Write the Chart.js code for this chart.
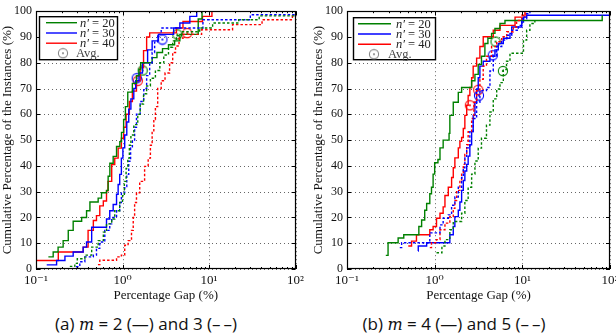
<!DOCTYPE html>
<html>
<head>
<meta charset="utf-8">
<script src="https://cdn.jsdelivr.net/npm/chart.js@4.4.1/dist/chart.umd.min.js"></script>
<style>
  html, body { margin: 0; padding: 0; background: #fff; width: 616px; height: 334px; overflow: hidden; position: relative; }
  .panel { position: absolute; top: 0; height: 305px; }
  #panelA { left: 0; width: 308px; }
  #panelB { left: 308px; width: 316px; }
  .caption { position: absolute; top: 314px; font-family: "Open Sans", sans-serif; font-size: 17px; line-height: 20px; white-space: nowrap; transform: translateX(-50%); color: #111; }
  .caption i { font-family: "DejaVu Serif", serif; font-size: 16px; }
</style>
</head>
<body>
<div class="panel" id="panelA"><canvas id="chartA"></canvas></div>
<div class="panel" id="panelB"><canvas id="chartB"></canvas></div>
<div class="caption" style="left:146px">(a) <i>m</i> = 2 (—) and 3 (–&#8201;–)</div>
<div class="caption" style="left:454px">(b) <i>m</i> = 4 (—) and 5 (–&#8201;–)</div>
<script>
const SERIF = '"Liberation Serif", "DejaVu Serif", serif';

// axis ticks
const xTickValues = [0.1, 1, 10, 100];
const xTickLabels = ['10⁻¹', '10⁰', '10¹', '10²'];
const yTickValues = [0, 10, 20, 30, 40, 50, 60, 70, 80, 90, 100];
const nPrime = ['20', '30', '40'];

// (a) m = 2, solid lines: gap (%) and cumulative share of instances (%)
const m2n20Gap = [0.139, 0.158, 0.18, 0.206, 0.236, 0.269, 0.337, 0.384, 0.42, 0.523, 0.572, 0.654, 0.682, 0.714, 0.78, 0.853, 0.931, 0.973, 1.03, 1.08, 1.15, 1.3, 1.45, 1.55, 1.62, 2.2, 2.5, 2.9, 3.4, 4.0, 4.6, 7.5, 8.3];
const m2n20Pct = [4.7, 6.6, 8.5, 11, 15, 18.5, 20, 22.6, 26, 27.5, 29.6, 30.5, 36, 41, 43.7, 47.5, 49.4, 53, 58, 63, 68.6, 72, 75, 77.5, 80, 82, 84, 85.5, 87, 88.5, 91, 97, 100];
const m2n30Gap = [0.133, 0.173, 0.216, 0.269, 0.351, 0.384, 0.44, 0.653, 0.712, 0.78, 0.853, 0.89, 0.928, 0.97, 1.01, 1.06, 1.12, 1.18, 1.25, 1.35, 1.42, 1.55, 1.7, 1.95, 2.2, 2.6, 3.9, 4.6, 6.0, 7.2];
const m2n30Pct = [1.6, 3.3, 5, 6.6, 8.5, 10.5, 16.2, 19.4, 22.6, 25, 29, 32.8, 36.7, 43, 47, 52, 57, 62, 66, 70, 73, 76, 80, 85, 88.5, 91, 93.5, 95.4, 98, 100];
const m2n40Gap = [0.1, 0.181, 0.351, 0.40, 0.46, 0.50, 0.546, 0.60, 0.653, 0.68, 0.75, 0.813, 0.89, 0.97, 1.03, 1.1, 1.2, 1.3, 1.45, 1.6, 1.75, 1.9, 2.06, 4.2, 5.0, 8.4, 10.8];
const m2n40Pct = [3.3, 6.6, 8.5, 15, 18.8, 20.7, 24.5, 26.4, 30.3, 34, 40.5, 43, 46.9, 50.7, 55, 60, 65, 69, 73, 78, 84.7, 90, 91.6, 93.5, 96, 98, 100];

// (a) m = 3, dashed lines
const m3n20Gap = [0.246, 0.281, 0.30, 0.367, 0.44, 0.523, 0.60, 0.653, 0.75, 0.813, 0.928, 1.0, 1.05, 1.1, 1.15, 1.2, 1.25, 1.35, 1.5, 1.6, 1.75, 1.9, 2.1, 2.4, 2.7, 3.0, 3.4, 3.8, 4.2, 4.8, 7.8, 11, 22, 38, 100];
const m3n20Pct = [1, 2.2, 4, 5.4, 8.5, 11, 14.3, 17.5, 19.4, 22.6, 25.8, 29, 34, 39, 43, 48, 52, 56, 60, 64, 68, 71, 74, 77, 80, 83, 86, 88.5, 90.5, 92, 93.5, 95.4, 96.7, 98.2, 98.2];
const m3n30Gap = [0.29, 0.321, 0.367, 0.46, 0.50, 0.546, 0.624, 0.712, 0.75, 0.853, 0.928, 0.97, 1.06, 1.12, 1.18, 1.24, 1.3, 1.38, 1.45, 1.6, 1.76, 1.9, 2.06, 2.2, 2.35, 2.55, 2.8, 8.5, 30, 100];
const m3n30Pct = [0.9, 2.8, 4.7, 5.4, 8, 10.5, 15, 17.5, 20, 22.6, 25.8, 29.6, 32, 36.7, 41.8, 47, 50, 55, 60, 65, 70, 75, 80, 84, 88, 91, 93.5, 96.7, 98.6, 98.6];
const m3n40Gap = [0.52, 0.546, 0.853, 0.97, 1.06, 1.16, 1.27, 1.33, 1.38, 1.45, 1.58, 1.80, 1.98, 2.1, 2.2, 2.3, 2.4, 2.55, 2.8, 3.1, 3.5, 3.8, 4.1, 4.5, 5.0, 8.2, 18.7, 41, 92, 100];
const m3n40Pct = [1.7, 3.4, 4.7, 5.4, 9.2, 11, 15, 20, 25.8, 29.6, 34, 39.8, 43, 48, 53, 58, 63, 70, 73, 76, 80, 84, 86.5, 89.5, 91, 92.8, 94.8, 96.7, 98.2, 98.2];

// (b) m = 4, solid lines
const m4n20Gap = [0.277, 0.294, 0.383, 0.444, 0.66, 0.71, 0.77, 0.81, 0.88, 0.92, 0.96, 1.0, 1.09, 1.15, 1.25, 1.46, 1.49, 1.63, 1.86, 2.03, 2.64, 2.88, 3.14, 3.42, 3.74, 4.05, 4.46, 4.87, 5.56, 6.34, 81.5];
const m4n20Pct = [5.3, 10.2, 12, 13.3, 16.5, 19, 22.8, 25.4, 29.2, 31.7, 36.8, 41.2, 42.5, 47, 50, 52.6, 59.6, 64.7, 68.5, 70.4, 73, 75.5, 79.3, 82.5, 87.5, 89.5, 91.4, 93.3, 95.2, 96.4, 98.4];
const m4n30Gap = [0.647, 0.65, 0.81, 1.49, 1.63, 1.70, 1.86, 1.94, 2.03, 2.12, 2.21, 2.32, 2.41, 2.52, 2.64, 2.75, 2.88, 3.01, 3.14, 3.28, 3.58, 4.27, 4.87, 5.32, 6.07, 7.23, 7.57, 9.85, 10.3, 11.2, 100];
const m4n30Pct = [7, 8.9, 10.2, 13.3, 16.5, 20.3, 22.8, 26, 30.5, 34.3, 38, 40.6, 43.8, 48.2, 53.3, 59.6, 64.7, 69.8, 74.2, 78.7, 80.6, 82.5, 85, 87.5, 89.5, 91.4, 93.9, 95.8, 97.7, 98.4, 98.4];
const m4n40Gap = [0.50, 0.545, 0.62, 0.88, 0.96, 1.05, 1.15, 1.25, 1.31, 1.43, 1.56, 1.63, 1.70, 1.86, 1.94, 2.03, 2.12, 2.21, 2.32, 2.41, 2.52, 2.64, 2.75, 3.01, 3.28, 3.58, 4.66, 5.56, 8.26, 10.7];
const m4n40Pct = [8.9, 10.8, 13.3, 15.2, 16.5, 19.7, 21.6, 24.1, 28.5, 31.7, 35.5, 39.3, 43.1, 47, 49.5, 51, 54.5, 59.6, 63.5, 67.3, 70.4, 74.2, 78.7, 81.8, 86.3, 90.1, 92.6, 94.5, 97.7, 100];

// (b) m = 5, dashed lines
const m5n20Gap = [1.05, 1.21, 1.31, 1.49, 1.63, 2.03, 2.21, 2.41, 2.64, 2.88, 3.14, 3.42, 3.9, 4.27, 4.66, 5.1, 5.56, 6.07, 6.6, 7.23, 10.3, 11.2, 12.2, 13.9];
const m5n20Pct = [6.3, 8.9, 11.4, 15.2, 18.4, 21.6, 26.6, 31.7, 36.8, 41.9, 46.9, 50.7, 55.8, 60.9, 66, 69.8, 72.3, 77.4, 80.6, 83.7, 88.8, 92.6, 95.2, 97.1];
const m5n30Gap = [0.40, 0.42, 0.88, 1.15, 1.25, 1.43, 1.56, 1.70, 1.86, 2.03, 2.12, 2.21, 2.32, 2.52, 2.75, 3.01, 3.28, 3.9, 4.27, 4.66, 5.1, 5.82, 6.64, 7.57, 9.0, 9.85, 11.2, 12.2];
const m5n30Pct = [8.3, 10.2, 14, 17.1, 19.7, 21, 24.7, 27.9, 31.7, 35.5, 39.3, 43.1, 47, 53.3, 58.4, 64.7, 69.2, 70.4, 76.8, 82.5, 86.3, 88.8, 90.7, 92.6, 94.5, 97.1, 99, 100];
const m5n40Gap = [0.88, 0.92, 1.05, 1.15, 1.31, 1.49, 1.63, 1.70, 1.78, 1.94, 2.03, 2.12, 2.21, 2.32, 2.41, 2.64, 2.8, 3.01, 3.28, 3.58, 3.9, 4.46, 5.1, 5.82, 6.64, 7.9, 8.6, 9.85, 11];
const m5n40Pct = [8.3, 10.2, 11.4, 15.2, 17.8, 20.3, 23.5, 26.6, 30.5, 34.3, 37.4, 40.6, 44.4, 48.2, 53.3, 58.4, 64.7, 69.2, 73.6, 78.7, 82.5, 86.3, 88.2, 90.1, 92, 93.9, 96.4, 98.4, 100];

// average markers (first entry: solid m, second: dashed m)
const avgA20Gap = [1.71, 4.3];  const avgA20Pct = [77, 91];
const avgA30Gap = [1.46, 2.89]; const avgA30Pct = [74, 89];
const avgA40Gap = [1.5, 5.6];   const avgA40Pct = [73, 91.5];
const avgB20Gap = [4.95, 6.0];  const avgB20Pct = [88.2, 76.8];
const avgB30Gap = [4.6, 3.2];   const avgB30Pct = [82.9, 67.3];
const avgB40Gap = [2.52, 3.14]; const avgB40Pct = [63.5, 69.5];

const GREEN = '#008000', BLUE = '#0000ff', RED = '#ff0000';
const colors = [GREEN, BLUE, RED];

function ringMarker(color) {
    const c = document.createElement('canvas');
    c.width = 12; c.height = 12;
    const g = c.getContext('2d');
    g.strokeStyle = color; g.lineWidth = 1.1;
    g.beginPath(); g.arc(6, 6, 4.6, 0, Math.PI * 2); g.stroke();
    g.fillStyle = color;
    g.beginPath(); g.arc(6, 6, 1.1, 0, Math.PI * 2); g.fill();
    return c;
}

function stepSeries(gaps, pcts, color, dashed) {
    return {
        data: gaps.map((g, i) => ({ x: g, y: pcts[i] })),
        borderColor: color,
        borderWidth: 1.4,
        borderDash: dashed ? [2.5, 2] : [],
        stepped: 'before',
        pointRadius: 0,
        fill: false
    };
}

function avgSeries(gaps, pcts, color) {
    return {
        data: gaps.map((g, i) => ({ x: g, y: pcts[i] })),
        showLine: false,
        pointStyle: ringMarker(color),
        pointRadius: 5,
        borderColor: color,
        backgroundColor: 'transparent'
    };
}

// dotted grid, frame and inward tick marks
const framePlugin = {
    id: 'frameGrid',
    beforeDatasetsDraw(chart) {
        const { ctx, chartArea: a, scales: { x, y } } = chart;
        ctx.save();
        ctx.strokeStyle = 'rgba(0,0,0,0.6)';
        ctx.lineWidth = 1;
        ctx.setLineDash([1, 3]);
        ctx.beginPath();
        xTickValues.forEach(v => {
            const px = Math.round(x.getPixelForValue(v)) + 0.5;
            ctx.moveTo(px, a.top); ctx.lineTo(px, a.bottom);
        });
        yTickValues.forEach(v => {
            const py = Math.round(y.getPixelForValue(v)) + 0.5;
            ctx.moveTo(a.left, py); ctx.lineTo(a.right, py);
        });
        ctx.stroke();
        ctx.restore();
    },
    afterDatasetsDraw(chart) {
        const { ctx, chartArea: a, scales: { x, y } } = chart;
        ctx.save();
        ctx.strokeStyle = '#000';
        ctx.lineWidth = 1;
        ctx.beginPath();
        xTickValues.forEach((v, i) => {
            const px = Math.round(x.getPixelForValue(v)) + 0.5;
            ctx.moveTo(px, a.bottom); ctx.lineTo(px, a.bottom - 4);
            ctx.moveTo(px, a.top); ctx.lineTo(px, a.top + 4);
            if (i < xTickValues.length - 1) {
                for (let k = 2; k < 10; k++) {
                    const mx = Math.round(x.getPixelForValue(v * k)) + 0.5;
                    ctx.moveTo(mx, a.bottom); ctx.lineTo(mx, a.bottom - 2);
                    ctx.moveTo(mx, a.top); ctx.lineTo(mx, a.top + 2);
                }
            }
        });
        yTickValues.forEach(v => {
            const py = Math.round(y.getPixelForValue(v)) + 0.5;
            ctx.moveTo(a.left, py); ctx.lineTo(a.left + 4, py);
            ctx.moveTo(a.right, py); ctx.lineTo(a.right - 4, py);
        });
        ctx.stroke();
        ctx.lineWidth = 1.2;
        ctx.strokeRect(Math.round(a.left) + 0.5, Math.round(a.top) + 0.5,
            Math.round(a.right - a.left) - 1, Math.round(a.bottom - a.top) - 1);
        ctx.restore();
    }
};

// legend box drawn inside the plot area
const boxLegendPlugin = {
    id: 'boxLegend',
    afterDraw(chart, args, opts) {
        const { ctx, chartArea: a } = chart;
        const bx = a.left + opts.dx, by = a.top + opts.dy;
        ctx.save();
        ctx.fillStyle = '#fff';
        ctx.fillRect(bx, by, opts.w, opts.h);
        ctx.strokeStyle = '#000';
        ctx.lineWidth = 1.4;
        ctx.strokeRect(bx + 0.5, by + 0.5, opts.w, opts.h);
        ctx.textBaseline = 'alphabetic';
        const rowY = [6.5, 16.8, 27, 37];
        nPrime.forEach((n, i) => {
            const ry = by + rowY[i];
            const base = ry + 4;
            ctx.strokeStyle = colors[i];
            ctx.lineWidth = 1.4;
            ctx.beginPath();
            ctx.moveTo(bx + opts.l0, ry); ctx.lineTo(bx + opts.l1, ry);
            ctx.stroke();
            ctx.fillStyle = '#222';
            ctx.font = 'italic 12.5px "DejaVu Serif", serif';
            ctx.font = 'italic 12.5px ' + SERIF;
            ctx.fillText('n′', bx + opts.tx, base);
            const w = ctx.measureText('n′').width;
            ctx.font = '12.5px ' + SERIF;
            ctx.fillText(' = ' + n, bx + opts.tx + w, base);
        });
        const ay = by + rowY[3];
        ctx.drawImage(ringMarker('#888'), bx + opts.mx - 6, ay - 6);
        ctx.fillStyle = '#444';
        ctx.font = '12.5px ' + SERIF;
        ctx.fillText('Avg.', bx + opts.ax, ay + 4);
        ctx.restore();
    }
};

function makeOptions(yWidth, padding, legend) {
    return {
        responsive: true,
        maintainAspectRatio: false,
        animation: false,
        layout: { padding: padding },
        plugins: {
            legend: { display: false },
            tooltip: { enabled: false },
            boxLegend: legend
        },
        scales: {
            x: {
                type: 'logarithmic',
                min: 0.1,
                max: 100,
                afterBuildTicks: s => { s.ticks = xTickValues.map(v => ({ value: v })); },
                afterFit: s => { s.height = 36; },
                ticks: {
                    autoSkip: false,
                    maxRotation: 0,
                    padding: 4,
                    color: '#111',
                    font: { family: SERIF, size: 13 },
                    callback: v => xTickLabels[xTickValues.indexOf(v)]
                },
                grid: { display: false, drawTicks: false },
                border: { display: false },
                title: {
                    display: true,
                    text: 'Percentage Gap (%)',
                    color: '#111',
                    font: { family: SERIF, size: 13 },
                    padding: { top: 0, bottom: 2 }
                }
            },
            y: {
                min: 0,
                max: 100,
                afterBuildTicks: s => { s.ticks = yTickValues.map(v => ({ value: v })); },
                afterFit: s => { s.width = yWidth; },
                ticks: {
                    padding: 4,
                    color: '#111',
                    font: { family: SERIF, size: 12 }
                },
                grid: { display: false, drawTicks: false },
                border: { display: false },
                title: {
                    display: true,
                    text: 'Cumulative Percentage of the Instances (%)',
                    color: '#111',
                    font: { family: SERIF, size: 13 },
                    padding: { top: 0, bottom: 0 }
                }
            }
        }
    };
}

new Chart(document.getElementById('chartA'), {
    type: 'line',
    data: {
        datasets: [
            stepSeries(m3n20Gap, m3n20Pct, GREEN, true),
            stepSeries(m3n30Gap, m3n30Pct, BLUE, true),
            stepSeries(m3n40Gap, m3n40Pct, RED, true),
            stepSeries(m2n20Gap, m2n20Pct, GREEN, false),
            stepSeries(m2n30Gap, m2n30Pct, BLUE, false),
            stepSeries(m2n40Gap, m2n40Pct, RED, false),
            avgSeries(avgA20Gap, avgA20Pct, GREEN),
            avgSeries(avgA30Gap, avgA30Pct, BLUE),
            avgSeries(avgA40Gap, avgA40Pct, RED)
        ]
    },
    options: makeOptions(36, { left: 0, right: 12, top: 8, bottom: 0 },
        { dx: 3, dy: 5, w: 78, h: 43, l0: 7, l1: 38, tx: 41, mx: 24, ax: 37 }),
    plugins: [framePlugin, boxLegendPlugin]
});

new Chart(document.getElementById('chartB'), {
    type: 'line',
    data: {
        datasets: [
            stepSeries(m5n20Gap, m5n20Pct, GREEN, true),
            stepSeries(m5n30Gap, m5n30Pct, BLUE, true),
            stepSeries(m5n40Gap, m5n40Pct, RED, true),
            stepSeries(m4n20Gap, m4n20Pct, GREEN, false),
            stepSeries(m4n30Gap, m4n30Pct, BLUE, false),
            stepSeries(m4n40Gap, m4n40Pct, RED, false),
            avgSeries(avgB20Gap, avgB20Pct, GREEN),
            avgSeries(avgB30Gap, avgB30Pct, BLUE),
            avgSeries(avgB40Gap, avgB40Pct, RED)
        ]
    },
    options: makeOptions(36, { left: 3, right: 14, top: 7, bottom: 0 },
        { dx: 6, dy: 6, w: 82, h: 42, l0: 5, l1: 38, tx: 43, mx: 21, ax: 35 }),
    plugins: [framePlugin, boxLegendPlugin]
});
</script>
</body>
</html>
